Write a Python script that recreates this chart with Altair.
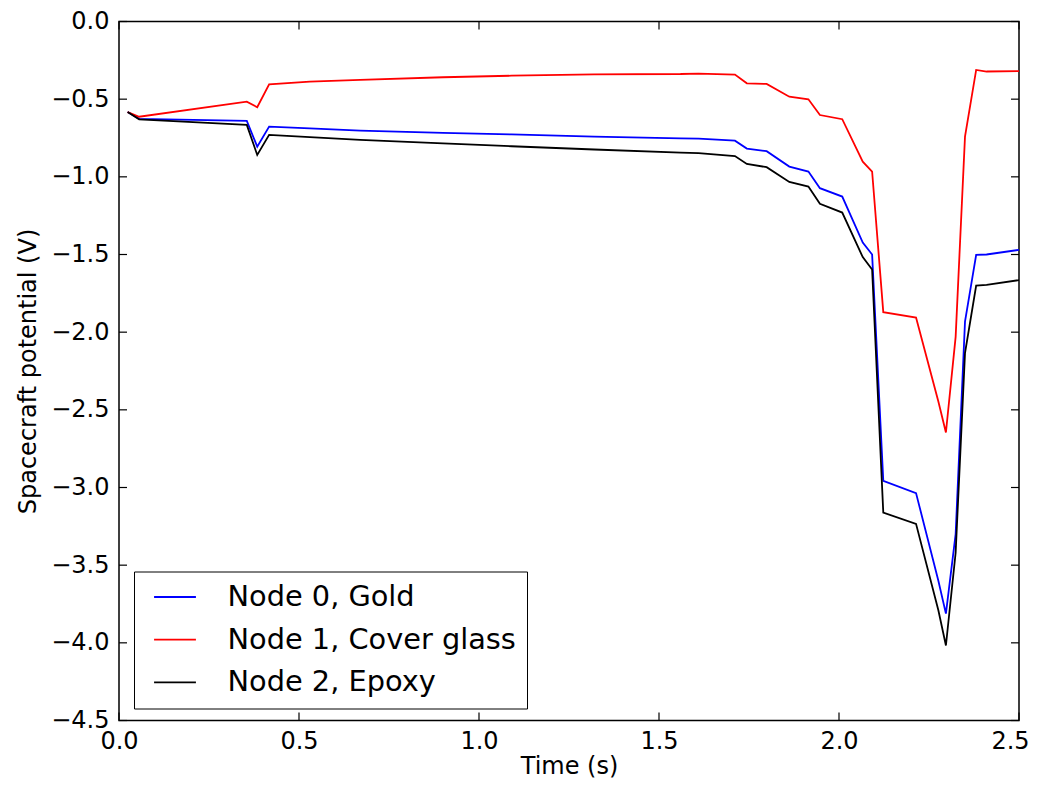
import altair as alt
import pandas as pd

times = [0.024, 0.056, 0.355, 0.384, 0.417, 0.53, 0.67, 0.90, 1.09, 1.32, 1.56, 1.61,
         1.711, 1.744, 1.799, 1.862, 1.915, 1.947, 2.009, 2.066, 2.092, 2.123, 2.214,
         2.276, 2.297, 2.324, 2.35, 2.381, 2.41, 2.5]

gold = [-0.583, -0.627, -0.640, -0.806, -0.677, -0.688, -0.703, -0.717, -0.727, -0.741,
        -0.752, -0.754, -0.767, -0.818, -0.835, -0.934, -0.966, -1.073, -1.127, -1.423,
        -1.500, -2.957, -3.036, -3.600, -3.812, -3.300, -1.932, -1.503, -1.500, -1.470]

cover_glass = [-0.583, -0.613, -0.516, -0.552, -0.404, -0.387, -0.376, -0.359, -0.349, -0.340,
               -0.338, -0.335, -0.342, -0.398, -0.402, -0.484, -0.501, -0.602, -0.629, -0.902,
               -0.966, -1.871, -1.906, -2.447, -2.646, -2.030, -0.741, -0.312, -0.322, -0.319]

epoxy = [-0.583, -0.630, -0.666, -0.859, -0.730, -0.745, -0.762, -0.785, -0.803, -0.824,
         -0.844, -0.848, -0.866, -0.917, -0.938, -1.033, -1.063, -1.174, -1.230, -1.517,
         -1.597, -3.161, -3.234, -3.790, -4.017, -3.420, -2.135, -1.700, -1.695, -1.665]

series_names = ["Node 0, Gold", "Node 1, Cover glass", "Node 2, Epoxy"]
series_colors = ["#0000ff", "#ff0000", "#000000"]
x_ticks = [0.0, 0.5, 1.0, 1.5, 2.0, 2.5]
y_ticks = [0.0, -0.5, -1.0, -1.5, -2.0, -2.5, -3.0, -3.5, -4.0, -4.5]

rows = []
for name, vals in zip(series_names, [gold, cover_glass, epoxy]):
    for t, v in zip(times, vals):
        rows.append({"time": t, "potential": v, "node": name})
df = pd.DataFrame(rows)

W, H = 900, 699
TL = 8
FONT = "DejaVu Sans"
xs = alt.Scale(domain=[0, 2.5], nice=False, zero=False)
ys = alt.Scale(domain=[-4.5, 0], nice=False, zero=False)
x_axis = alt.Axis(title="Time (s)", values=x_ticks, format=".1f",
                  labelPadding=9, titlePadding=1, labelFlush=False,
                  labelOffset={"condition": {"test": "datum.value >= 2.5", "value": -9},
                               "value": 0})
y_axis = alt.Axis(title="Spacecraft potential (V)", values=y_ticks, format=".1f",
                  labelPadding=10, titlePadding=10, labelFlush=False)

lines = alt.Chart(df).mark_line(strokeWidth=1.8, clip=True).encode(
    x=alt.X("time:Q", scale=xs, axis=x_axis),
    y=alt.Y("potential:Q", scale=ys, axis=y_axis),
    color=alt.Color("node:N",
                    scale=alt.Scale(domain=series_names, range=series_colors),
                    legend=alt.Legend(title=None, orient="none", legendX=15, legendY=550,
                                      labelFont=FONT, labelFontSize=28.8, labelColor="black",
                                      labelLimit=500,
                                      symbolType="M-1.55,0H1.55", symbolSize=729,
                                      symbolStrokeWidth=1.8, symbolOffset=15.5,
                                      labelOffset=38, padding=11, rowPadding=12.7,
                                      strokeColor="black", fillColor="white")),
    order=alt.Order("time:Q"),
)

xt = pd.DataFrame({"time": x_ticks})
yt = pd.DataFrame({"potential": y_ticks})
tick_style = dict(color="black", strokeWidth=1.2)
tick_bottom = alt.Chart(xt).mark_rule(**tick_style).encode(
    x=alt.X("time:Q", scale=xs, axis=x_axis), y=alt.value(H), y2=alt.value(H - TL))
tick_top = alt.Chart(xt).mark_rule(**tick_style).encode(
    x=alt.X("time:Q", scale=xs, axis=x_axis), y=alt.value(0), y2=alt.value(TL))
tick_left = alt.Chart(yt).mark_rule(**tick_style).encode(
    y=alt.Y("potential:Q", scale=ys, axis=y_axis), x=alt.value(0), x2=alt.value(TL))
tick_right = alt.Chart(yt).mark_rule(**tick_style).encode(
    y=alt.Y("potential:Q", scale=ys, axis=y_axis), x=alt.value(W), x2=alt.value(W - TL))

chart = alt.layer(lines, tick_bottom, tick_top, tick_left, tick_right).properties(
    width=W, height=H,
    padding={"left": 111, "top": 13.5, "right": 13, "bottom": 58},
    autosize=alt.AutoSizeParams(type="none"),
).configure_view(
    stroke="black", strokeWidth=1.5
).configure_axis(
    labelFont=FONT, titleFont=FONT, labelFontSize=24, titleFontSize=24,
    titleFontWeight="normal", labelColor="black", titleColor="black",
    domain=False, ticks=False, grid=False,
)

chart.save("out.html", embed_options={"renderer": "svg", "actions": False})
